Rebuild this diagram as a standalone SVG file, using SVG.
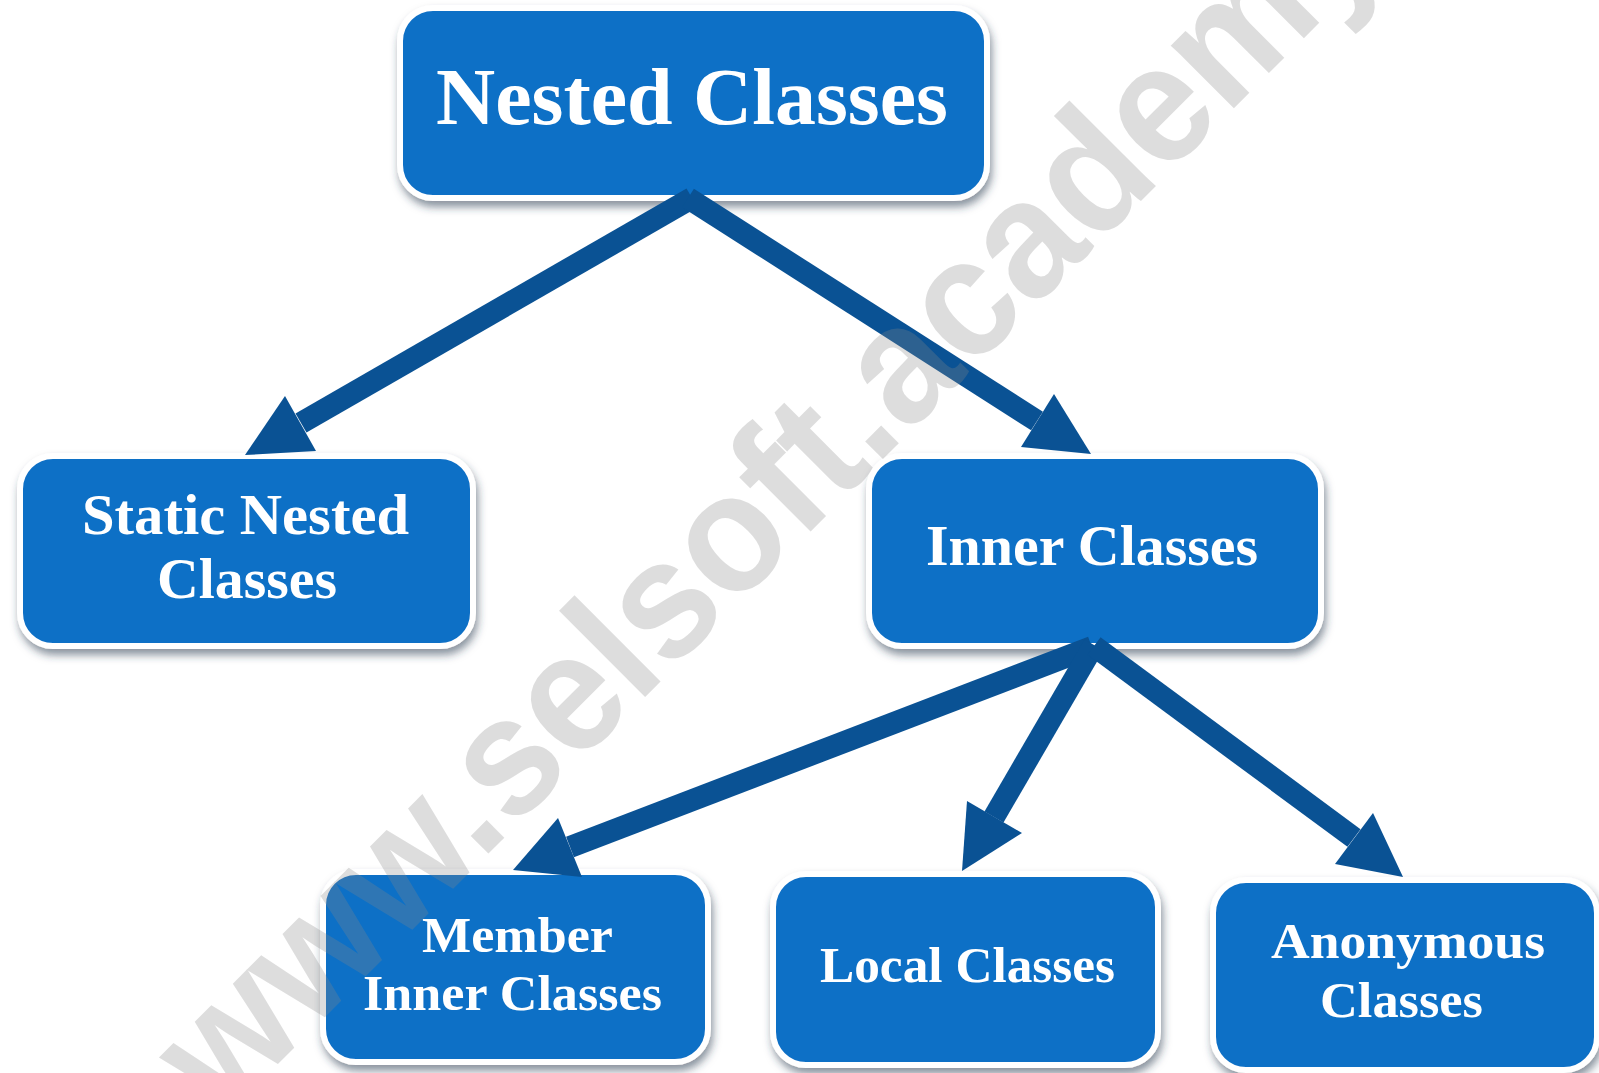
<svg xmlns="http://www.w3.org/2000/svg" width="1599" height="1073" viewBox="0 0 1599 1073">
<defs>
<filter id="sh" x="-10%" y="-10%" width="120%" height="130%">
<feDropShadow dx="2" dy="6" stdDeviation="4" flood-color="#2a3a50" flood-opacity="0.55"/>
</filter>
<style>
.box{fill:#1170C6;stroke:#ffffff;stroke-width:6;filter:url(#sh)}
.lbl{font-family:"Liberation Serif","Times New Roman",serif;font-weight:bold;fill:#ffffff;text-anchor:middle}
.m{font-size:56px}
.s{font-size:51px}
.shaft{stroke:#0A5294;stroke-width:22;stroke-linecap:butt;fill:none}
.head{fill:#0A5294}
.wm{font-family:"Liberation Sans",Arial,sans-serif;font-weight:bold;font-size:168px;fill:#888888;opacity:0.28}
</style>
</defs>
<rect width="1599" height="1073" fill="#ffffff"/>
<g id="node-nested">
<rect class="box" x="400" y="8" width="587" height="190" rx="33"/>
<text class="lbl" x="692" y="124" font-size="80" textLength="512" lengthAdjust="spacingAndGlyphs">Nested Classes</text>
</g>
<g id="node-static">
<rect class="box" x="20" y="456" width="453" height="190" rx="33"/>
<text class="lbl m" x="245.5" y="534" textLength="327" lengthAdjust="spacingAndGlyphs">Static Nested</text>
<text class="lbl m" x="247" y="598" textLength="180" lengthAdjust="spacingAndGlyphs">Classes</text>
</g>
<g id="node-inner">
<rect class="box" x="869" y="456" width="452" height="190" rx="33"/>
<text class="lbl m" x="1092" y="565" textLength="332" lengthAdjust="spacingAndGlyphs">Inner Classes</text>
</g>
<g id="node-member">
<rect class="box" x="323" y="872" width="385" height="190" rx="33"/>
<text class="lbl s" x="517.5" y="952" textLength="191" lengthAdjust="spacingAndGlyphs">Member</text>
<text class="lbl s" x="512.5" y="1010" textLength="299" lengthAdjust="spacingAndGlyphs">Inner Classes</text>
</g>
<g id="node-local">
<rect class="box" x="773" y="874" width="385" height="191" rx="33"/>
<text class="lbl s" x="967.5" y="982" textLength="295" lengthAdjust="spacingAndGlyphs">Local Classes</text>
</g>
<g id="node-anonymous">
<rect class="box" x="1213" y="880" width="384" height="190" rx="33"/>
<text class="lbl s" x="1408" y="958" textLength="274" lengthAdjust="spacingAndGlyphs">Anonymous</text>
<text class="lbl s" x="1401.5" y="1017" textLength="163" lengthAdjust="spacingAndGlyphs">Classes</text>
</g>
<g id="connectors">
<line class="shaft" x1="692" y1="198" x2="301" y2="423"/>
<polygon class="head" points="245,455 285,396 316,451"/>
<line class="shaft" x1="688" y1="198" x2="1037" y2="421"/>
<polygon class="head" points="1091,454 1021,447 1054,394"/>
<line class="shaft" x1="1092" y1="647" x2="570" y2="847"/>
<polygon class="head" points="513,870 558,818 582,877"/>
<line class="shaft" x1="1094" y1="645" x2="994" y2="817"/>
<polygon class="head" points="962,871 967,801 1022,833"/>
<line class="shaft" x1="1094" y1="646" x2="1354" y2="838"/>
<polygon class="head" points="1403,877 1335,864 1373,813"/>
</g>
<text class="wm" transform="translate(222,1120) rotate(-45)" x="0" y="0" textLength="1650" lengthAdjust="spacingAndGlyphs">www.selsoft.academy</text>
</svg>
